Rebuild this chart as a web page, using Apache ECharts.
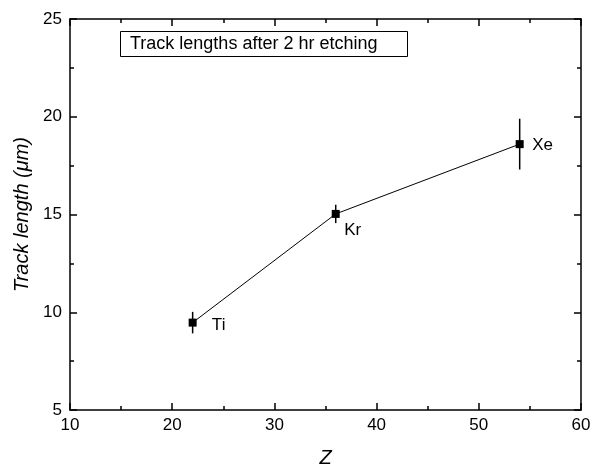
<!DOCTYPE html>
<html><head><meta charset="utf-8">
<script src="https://cdn.jsdelivr.net/npm/echarts@6/dist/echarts.min.js"></script>
<style>html,body{margin:0;padding:0;background:#fff}#c{width:601px;height:466px}</style>
</head><body><div id="c"></div>
<script>
const elements = ['Ti', 'Kr', 'Xe'];
const zValues = [22, 36, 54];
const trackLength = [9.47, 15.03, 18.6];
const trackError = [0.55, 0.47, 1.3];
const xTicks = [10, 20, 30, 40, 50, 60];
const yTicks = [5, 10, 15, 20, 25];
const labelOffsets = [[26, 3], [17, 16], [23, 1]];

const chart = echarts.init(document.getElementById('c'));
const font = 'Liberation Sans, Arial, sans-serif';
const baseAxis = {
  axisLine: {show: true, onZero: false, lineStyle: {color: '#000', width: 1.5}},
  axisTick: {show: true, inside: true, length: 7, lineStyle: {color: '#000', width: 1.5}},
  minorTick: {show: true, splitNumber: 2, length: 4, lineStyle: {color: '#000', width: 1.5}},
  splitLine: {show: false},
};
chart.setOption({
  animation: false,
  title: {
    text: 'Track lengths after 2 hr etching',
    left: 120, top: 31,
    padding: [4, 30, 4, 10],
    borderColor: '#000', borderWidth: 1,
    textStyle: {fontFamily: font, fontSize: 18, fontWeight: 'normal', color: '#000', lineHeight: 18}
  },
  grid: {left: 70, right: 20, top: 19, bottom: 56, containLabel: false, outerBoundsMode: 'none'},
  xAxis: [
    Object.assign({}, baseAxis, {
      type: 'value', min: xTicks[0], max: xTicks[xTicks.length - 1], interval: 10,
      name: 'Z', nameLocation: 'middle', nameGap: 38,
      nameTextStyle: {fontFamily: font, fontSize: 20, fontStyle: 'italic', color: '#000'},
      axisLabel: {fontFamily: font, fontSize: 17, color: '#000', margin: 7}
    }),
    Object.assign({}, baseAxis, {
      type: 'value', position: 'top', min: 10, max: 60, interval: 10,
      axisLabel: {show: false}
    })
  ],
  yAxis: [
    Object.assign({}, baseAxis, {
      type: 'value', min: yTicks[0], max: yTicks[yTicks.length - 1], interval: 5,
      name: 'Track length (\u03bcm)', nameLocation: 'middle', nameGap: 38,
      nameTextStyle: {fontFamily: font, fontSize: 20, fontStyle: 'italic', color: '#000'},
      axisLabel: {fontFamily: font, fontSize: 17, color: '#000', margin: 8}
    }),
    Object.assign({}, baseAxis, {
      type: 'value', position: 'right', min: 5, max: 25, interval: 5,
      axisLabel: {show: false}
    })
  ],
  series: [
    {
      type: 'custom',
      renderItem: function (params, api) {
        const x = api.value(0), y = api.value(1), e = api.value(2);
        const p1 = api.coord([x, y + e]);
        const p2 = api.coord([x, y - e]);
        return {type: 'line', shape: {x1: p1[0], y1: p1[1], x2: p2[0], y2: p2[1]},
          style: {stroke: '#000', lineWidth: 1.5}};
      },
      data: zValues.map((z, i) => [z, trackLength[i], trackError[i]]),
      z: 1
    },
    {
      type: 'line',
      symbol: 'rect', symbolSize: 8,
      lineStyle: {color: '#000', width: 1},
      itemStyle: {color: '#000'},
      data: zValues.map((z, i) => ({
        value: [z, trackLength[i]],
        label: {show: true, formatter: elements[i], position: 'inside',
          offset: labelOffsets[i], fontFamily: font, fontSize: 17, color: '#000'}
      })),
      z: 2
    }
  ]
});
</script></body></html>
